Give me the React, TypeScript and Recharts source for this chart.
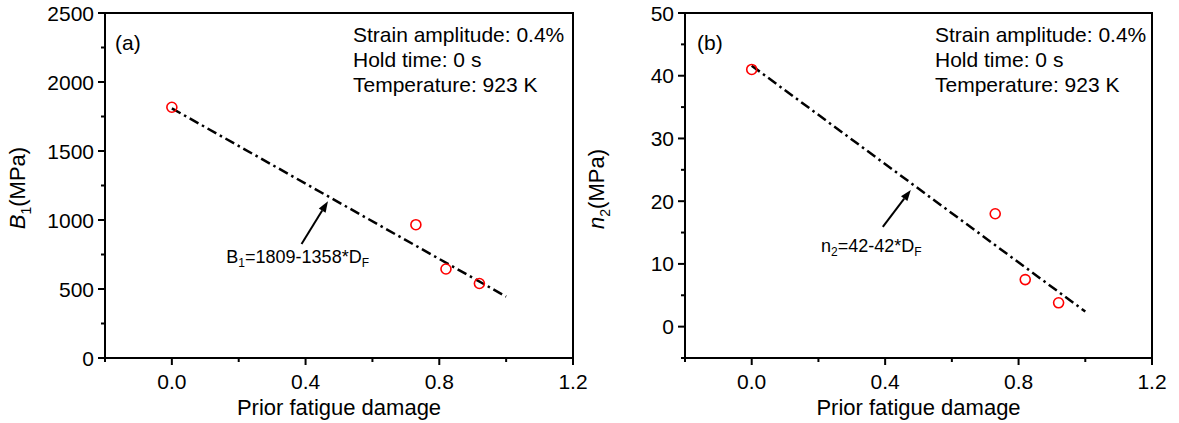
import React from 'react';
import {
  ScatterChart,
  Scatter,
  XAxis,
  YAxis,
  ReferenceArea,
  ReferenceLine,
  ReferenceDot,
} from 'recharts';

// prior fatigue damage of the four specimens
const damage = [0, 0.73, 0.82, 0.92];
// panel (a): B1 in MPa
const b1Values = [1817, 966, 645, 540];
// panel (b): n2 in MPa
const n2Values = [41, 18, 7.5, 3.8];

// fitted lines (end points)
const fitDamage = [0, 1.0];
const fitB1 = [1809, 445];
const fitN2 = [41.6, 2.4];

const xTicks = [-0.2, 0, 0.2, 0.4, 0.6, 0.8, 1.0, 1.2];
const b1Ticks = [0, 250, 500, 750, 1000, 1250, 1500, 1750, 2000, 2250, 2500];
const n2Ticks = [-5, 0, 5, 10, 15, 20, 25, 30, 35, 40, 45, 50];

const FONT = '"Liberation Sans", Arial, sans-serif';

const toPoints = (xs: number[], ys: number[]) => xs.map((x, i) => ({ x, y: ys[i] }));

const isMajorX = (v: number) => Math.abs(v / 0.4 - Math.round(v / 0.4)) < 1e-6;

function XTick(props: any) {
  const { x, y, payload } = props;
  const major = isMajorX(payload.value);
  const len = major ? 7 : 4;
  return (
    <g>
      <line x1={x} x2={x} y1={y} y2={y + len} stroke="#000" strokeWidth={2} />
      {major && (
        <text x={x} y={y + 31} textAnchor="middle" fontSize={21} fontFamily={FONT} fill="#000">
          {payload.value.toFixed(1)}
        </text>
      )}
    </g>
  );
}

const makeYTick = (step: number) => (props: any) => {
  const { x, y, payload } = props;
  const major = payload.value % step === 0;
  const len = major ? 7 : 4;
  return (
    <g>
      <line x1={x - len} x2={x} y1={y} y2={y} stroke="#000" strokeWidth={2} />
      {major && (
        <text x={x - len - 4} y={y} dy="0.36em" textAnchor="end" fontSize={21} fontFamily={FONT} fill="#000">
          {payload.value}
        </text>
      )}
    </g>
  );
};

const Circle = (p: any) => (
  <circle cx={p.cx} cy={p.cy} r={5} fill="none" stroke="#ff0000" strokeWidth={1.6} />
);

const Nothing = () => <g />;

const Arrow = (p: any) => {
  const { x1, y1, x2, y2 } = p;
  const ang = Math.atan2(y2 - y1, x2 - x1);
  const L = 11;
  const W = 4;
  const bx = x2 - L * Math.cos(ang);
  const by = y2 - L * Math.sin(ang);
  const nx = -Math.sin(ang) * W;
  const ny = Math.cos(ang) * W;
  return (
    <g>
      <line x1={x1} y1={y1} x2={bx} y2={by} stroke="#000" strokeWidth={2} />
      <polygon points={`${x2},${y2} ${bx + nx},${by + ny} ${bx - nx},${by - ny}`} fill="#000" />
    </g>
  );
};

const Equation = (main: string, sub1: string, rest: string) => (p: any) => (
  <text x={p.cx} y={p.cy} fontSize={18} fontFamily={FONT} fill="#000">
    {main}
    <tspan fontSize={12} dy={4}>{sub1}</tspan>
    <tspan dy={-4}>{rest}</tspan>
    <tspan fontSize={12} dy={4}>F</tspan>
  </text>
);

const lineStyle = { stroke: '#000', strokeWidth: 2.5, strokeDasharray: '10 4 2.5 4' };

const textStyle: React.CSSProperties = {
  position: 'absolute',
  fontFamily: FONT,
  fontSize: 21,
  lineHeight: '25px',
  color: '#000',
  whiteSpace: 'nowrap',
};

function InfoBox({ left }: { left: number }) {
  return (
    <div style={{ ...textStyle, left, top: 22 }}>
      <div>Strain amplitude: 0.4%</div>
      <div>Hold time: 0 s</div>
      <div>Temperature: 923 K</div>
    </div>
  );
}

function YTitle({ cx, cy, sym }: { cx: number; cy: number; sym: React.ReactNode }) {
  return (
    <div
      style={{
        ...textStyle,
        fontSize: 22,
        left: cx,
        top: cy,
        transform: 'translate(-50%, -50%) rotate(-90deg)',
      }}
    >
      {sym}(MPa)
    </div>
  );
}

export default function App() {
  const xLabel = { value: 'Prior fatigue damage', position: 'insideBottom' as const, offset: 8, fontSize: 22, fontFamily: FONT, fill: '#000' };
  return (
    <div style={{ position: 'absolute', left: 0, top: 0, width: 1179, height: 423, background: '#fff' }}>
      <div style={{ display: 'flex' }}>
        <ScatterChart width={590} height={423} margin={{ top: 13, right: 17, left: 0, bottom: 0 }}>
          <XAxis
            type="number"
            dataKey="x"
            domain={[-0.2, 1.2]}
            ticks={xTicks}
            allowDataOverflow
            tickSize={0}
            tickMargin={0}
            tickLine={false}
            tick={<XTick />}
            axisLine={{ stroke: '#000', strokeWidth: 2 }}
            height={65}
            label={xLabel}
          />
          <YAxis
            type="number"
            dataKey="y"
            domain={[0, 2500]}
            ticks={b1Ticks}
            allowDataOverflow
            width={105}
            tickSize={0}
            tickMargin={0}
            tickLine={false}
            tick={makeYTick(500)}
            axisLine={{ stroke: '#000', strokeWidth: 2 }}
          />
          <ReferenceArea x1={-0.2} x2={1.2} y1={0} y2={2500} fill="none" stroke="#000" strokeWidth={2} />
          <Scatter data={toPoints(fitDamage, fitB1)} line={lineStyle} shape={<Nothing />} isAnimationActive={false} />
          <Scatter data={toPoints(damage, b1Values)} shape={<Circle />} isAnimationActive={false} />
          <ReferenceLine
            segment={[{ x: 0.388, y: 826 }, { x: 0.467, y: 1136 }]}
            shape={<Arrow />}
          />
          <ReferenceDot x={0.163} y={688} r={0} shape={Equation('B', '1', '=1809-1358*D')} />
        </ScatterChart>
        <ScatterChart width={589} height={423} margin={{ top: 13, right: 27, left: 0, bottom: 0 }}>
          <XAxis
            type="number"
            dataKey="x"
            domain={[-0.2, 1.2]}
            ticks={xTicks}
            allowDataOverflow
            tickSize={0}
            tickMargin={0}
            tickLine={false}
            tick={<XTick />}
            axisLine={{ stroke: '#000', strokeWidth: 2 }}
            height={65}
            label={xLabel}
          />
          <YAxis
            type="number"
            dataKey="y"
            domain={[-5, 50]}
            ticks={n2Ticks}
            allowDataOverflow
            width={95}
            tickSize={0}
            tickMargin={0}
            tickLine={false}
            tick={makeYTick(10)}
            axisLine={{ stroke: '#000', strokeWidth: 2 }}
          />
          <ReferenceArea x1={-0.2} x2={1.2} y1={-5} y2={50} fill="none" stroke="#000" strokeWidth={2} />
          <Scatter data={toPoints(fitDamage, fitN2)} line={lineStyle} shape={<Nothing />} isAnimationActive={false} />
          <Scatter data={toPoints(damage, n2Values)} shape={<Circle />} isAnimationActive={false} />
          <ReferenceLine
            segment={[{ x: 0.393, y: 15.9 }, { x: 0.477, y: 21.8 }]}
            shape={<Arrow />}
          />
          <ReferenceDot x={0.208} y={11.9} r={0} shape={Equation('n', '2', '=42-42*D')} />
        </ScatterChart>
      </div>

      <div style={{ ...textStyle, left: 115, top: 30 }}>(a)</div>
      <div style={{ ...textStyle, left: 697, top: 30 }}>(b)</div>
      <InfoBox left={353} />
      <InfoBox left={935} />
      <YTitle
        cx={22}
        cy={188}
        sym={
          <>
            <i>B</i>
            <sub style={{ fontSize: 14 }}>1</sub>
          </>
        }
      />
      <YTitle
        cx={601}
        cy={189}
        sym={
          <>
            <i>n</i>
            <sub style={{ fontSize: 14 }}>2</sub>
          </>
        }
      />
    </div>
  );
}
